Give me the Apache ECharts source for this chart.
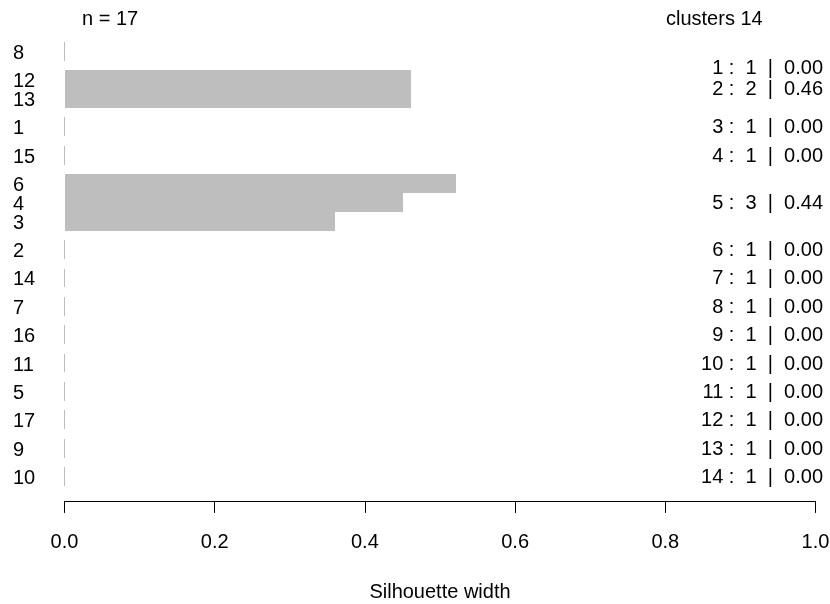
<!DOCTYPE html>
<html>
<head>
<meta charset="utf-8">
<script src="https://cdn.jsdelivr.net/npm/echarts@6/dist/echarts.min.js"></script>
<style>html,body{margin:0;padding:0;background:#fff}#c{width:830px;height:604px}</style>
</head>
<body>
<div id="c"></div>
<script>
// ---- data ----
const obsLabels  = ['8','12','13','1','15','6','4','3','2','14','7','16','11','5','17','9','10'];
const obsCluster = [1, 2, 2, 3, 4, 5, 5, 5, 6, 7, 8, 9, 10, 11, 12, 13, 14];
const silWidth   = [0, 0.461, 0.461, 0, 0, 0.521, 0.450, 0.360, 0, 0, 0, 0, 0, 0, 0, 0, 0];
const nObs = obsLabels.length;
const nClusters = 14;
const xTickLabels = ['0.0','0.2','0.4','0.6','0.8','1.0'];

// ---- layout derived from data (barplot with 0.5 space between clusters) ----
const FONT = '"Liberation Sans", Arial, Helvetica, sans-serif';
const starts = [];
let gaps = 0;
for (let i = 0; i < nObs; i++) {
  if (i > 0 && obsCluster[i] !== obsCluster[i - 1]) gaps++;
  starts.push(i + 0.5 * gaps);
}
const yMax = nObs + 0.5 * gaps;

const barData = silWidth.map((v, i) => [v, starts[i], starts[i] + 1]);

const clusterIds = [...new Set(obsCluster)];
const clusterData = clusterIds.map(j => {
  const idx = obsCluster.map((c, i) => c === j ? i : -1).filter(i => i >= 0);
  const center = (starts[idx[0]] + starts[idx[idx.length - 1]] + 1) / 2;
  const avg = idx.reduce((s, i) => s + silWidth[i], 0) / idx.length;
  return [center, j, idx.length, avg];
});

const chart = echarts.init(document.getElementById('c'), null, {renderer: 'canvas'});
chart.setOption({
  animation: false,
  backgroundColor: '#fff',
  title: [
    {text: 'n = ' + nObs, left: 77, top: 4, textStyle: {fontFamily: FONT, fontSize: 20, fontWeight: 'normal', color: '#000'}},
    {text: 'clusters ' + nClusters, left: 661, top: 4, textStyle: {fontFamily: FONT, fontSize: 20, fontWeight: 'normal', color: '#000'}}
  ],
  grid: {left: 64.5, width: 751, top: 41.7, height: 444.2, containLabel: false, outerBoundsMode: 'none'},
  xAxis: {
    type: 'value', min: 0, max: 1, interval: 0.2, position: 'bottom', offset: 15,
    splitLine: {show: false},
    axisLine: {show: true, onZero: false, lineStyle: {color: '#000', width: 1}},
    axisTick: {show: true, length: 12, lineStyle: {color: '#000', width: 1}},
    axisLabel: {margin: 32, fontFamily: FONT, fontSize: 20, color: '#000',
      formatter: v => xTickLabels[Math.round(v / 0.2)]},
    name: 'Silhouette width', nameLocation: 'middle', nameGap: 82,
    nameTextStyle: {fontFamily: FONT, fontSize: 20, color: '#000'}
  },
  yAxis: {type: 'value', min: 0, max: yMax, inverse: true, show: false},
  series: [
    {
      type: 'custom',
      data: barData,
      encode: {x: 0, y: [1, 2]},
      renderItem: (params, api) => {
        const v = api.value(0), y0 = api.value(1), y1 = api.value(2);
        const p0 = api.coord([0, y0]);
        const p1 = api.coord([v, y1]);
        const top = Math.round(p0[1]), bot = Math.round(p1[1]);
        const w = p1[0] - p0[0];
        const rect = w < 1
          ? {x: Math.floor(p0[0]), y: top, width: 1, height: bot - top}
          : {x: Math.round(p0[0]), y: top, width: Math.round(w), height: bot - top};
        return {
          type: 'group',
          children: [
            {type: 'rect', shape: rect, style: {fill: '#bebebe'}},
            {type: 'text', x: 13, y: (p0[1] + p1[1]) / 2 + 2,
              style: {text: obsLabels[params.dataIndex], fill: '#000', font: '20px ' + FONT,
                textAlign: 'left', textVerticalAlign: 'middle'}}
          ]
        };
      }
    },
    {
      type: 'custom',
      data: clusterData,
      encode: {y: 0},
      renderItem: (params, api) => {
        const c = api.value(0), j = api.value(1), n = api.value(2), avg = api.value(3);
        const p = api.coord([1, c]);
        const shift = params.dataIndex === 0 ? 17 : 1;
        return {
          type: 'text', x: p[0] + 7.5, y: p[1] + shift,
          style: {text: j + ' :  ' + n + '  |  ' + avg.toFixed(2), fill: '#000', font: '20px ' + FONT,
            textAlign: 'right', textVerticalAlign: 'middle'}
        };
      }
    }
  ]
});
</script>
</body>
</html>
